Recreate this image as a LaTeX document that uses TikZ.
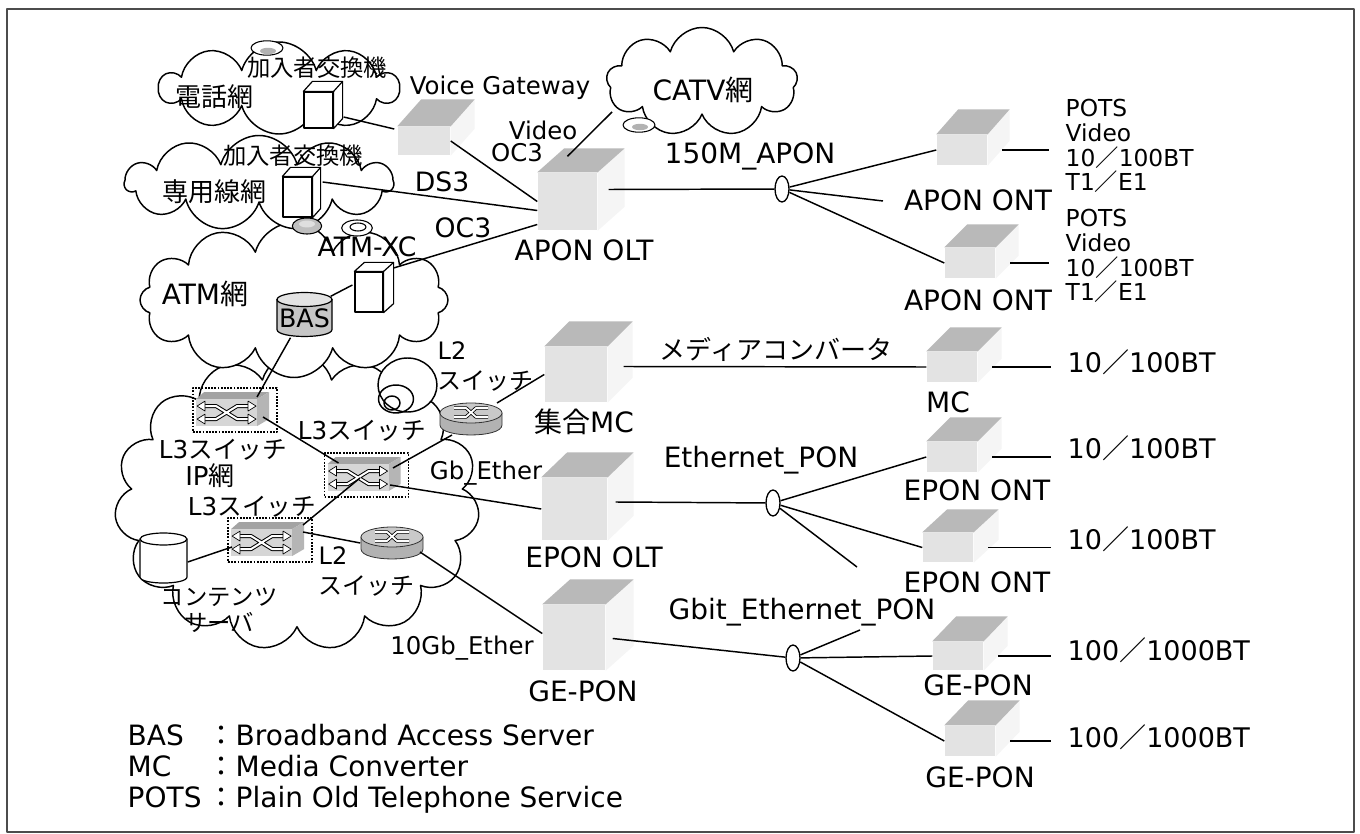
\documentclass[tikz,border=0pt]{standalone}
\usepackage{fontspec}
\setmainfont{DejaVu Sans}
\newfontfamily\jp{Noto Sans CJK JP}
\usetikzlibrary{shapes.geometric,shapes.symbols,calc}

\tikzset{
  lbl/.style={inner sep=0pt},
  fA/.style={lbl, font=\fontsize{21}{24}\selectfont},
  fN/.style={lbl, font=\fontsize{20.25}{24}\selectfont},
  fM/.style={lbl, font=\fontsize{20}{22}\selectfont},
  fB/.style={lbl, font=\fontsize{18.3}{20}\selectfont},
  fP/.style={lbl, anchor=west, align=left, font=\fontsize{17.5}{18.6}\selectfont},
  fJ/.style={lbl, font=\jp\fontsize{19.5}{22}\selectfont},
  fJs/.style={lbl, font=\jp\fontsize{17.5}{20}\selectfont},
  fL/.style={lbl, font=\fontsize{18.5}{22}\selectfont},
  netcloud/.style={cloud, cloud ignores aspect, draw, fill=white, inner sep=0pt, line width=1.1pt},
  dev/.style 2 args={fill=gray!22, inner sep=0pt, minimum width=#1*0.75pt, minimum height=#2*0.75pt},
  exfront/.style 2 args={draw, fill=white, inner sep=0pt, line width=0.9pt, minimum width=#1*0.75pt, minimum height=#2*0.75pt},
  anchorbox/.style 2 args={inner sep=0pt, minimum width=#1*0.75pt, minimum height=#2*0.75pt},
  swbox/.style={draw, densely dotted, line width=1.4pt, inner sep=0pt, minimum width=63pt, minimum height=33pt},
  splitter/.style={ellipse, draw, fill=white, inner sep=0pt, line width=1pt, minimum width=10.5pt, minimum height=19.5pt},
  stub/.style={shorten <=11pt, shorten >=12pt},
}

% stippled equipment: dark top face and faint side face behind a front node
\newcommand\devtop[3]{%
  \fill[gray!8] (#1.north east) -- ++(#2,-#3) -- ($(#1.south east)+(#2,-#3)$) -- (#1.south east) -- cycle;
  \fill[gray!55] (#1.north west) -- ++(#2,-#3) -- ($(#1.north east)+(#2,-#3)$) -- (#1.north east) -- cycle;}

% white outlined exchange cabinet
\newcommand\cubeout[3]{%
  \filldraw[fill=white, line width=0.9pt] (#1.north west) -- ++(#2,-#3) -- ($(#1.north east)+(#2,-#3)$) -- ($(#1.south east)+(#2,-#3)$) -- (#1.south east) -- (#1.north east) -- cycle;
  \draw[line width=0.9pt] (#1.north east) -- ++(#2,-#3);}

% layer-3 switch icon inside its dotted frame
\newcommand\swicon[1]{%
  \begin{scope}[shift={(#1.north west)}, line width=0.5pt]
    \fill[gray!72] (4,12) -- (12,5) -- (77,5) -- (65,12) -- cycle;
    \fill[gray!58] (65,12) -- (77,5) -- (77,32) -- (65,39) -- cycle;
    \fill[gray!32] (4,12) rectangle (65,39);
    \draw[line width=3pt] (12,19) -- (24,19) -- (45,32) -- (57,32) (12,32) -- (24,32) -- (45,19) -- (57,19);
    \draw[line width=1.5pt, white] (12,19) -- (24,19) -- (45,32) -- (57,32) (12,32) -- (24,32) -- (45,19) -- (57,19);
    \filldraw[fill=white] (5,19) -- (13,14) -- (13,24) -- cycle;
    \filldraw[fill=white] (5,32) -- (13,27) -- (13,37) -- cycle;
    \filldraw[fill=white] (64,19) -- (56,14) -- (56,24) -- cycle;
    \filldraw[fill=white] (64,32) -- (56,27) -- (56,37) -- cycle;
  \end{scope}}

% layer-2 switch (round router-style icon)
\newcommand\router[1]{%
  \begin{scope}[shift={(#1.center)}, line width=0.6pt]
    \filldraw[fill=gray!60, draw=gray!40!black] (-31,-6) -- (-31,6) .. controls (-31,19.3) and (31,19.3) .. (31,6) -- (31,-6) -- cycle;
    \filldraw[fill=gray!42, draw=gray!40!black] (0,-6) ellipse [x radius=23.25pt, y radius=7.5pt];
    \draw[line width=2.6pt] (-17,-11) -- (-5,-11) -- (5,-2) -- (17,-2) (-17,-2) -- (-5,-2) -- (5,-11) -- (17,-11);
    \draw[white, line width=1.4pt] (-17,-11) -- (-5,-11) -- (5,-2) -- (17,-2) (-17,-2) -- (-5,-2) -- (5,-11) -- (17,-11);
  \end{scope}}

\begin{document}
\begin{tikzpicture}[x=0.75pt, y=-0.75pt, line width=1.1pt, line join=round]
\useasboundingbox (0,0) rectangle (1360,834);
\draw[gray!60!black, line width=1pt] (7,9) rectangle (1354,832);

% ---------------- networks ----------------
\node[netcloud, cloud puffs=15, minimum width=273.75pt, minimum height=222.75pt] (ipnet) at (297,502) {};
\node[netcloud, cloud puffs=12, minimum width=231pt, minimum height=116.25pt] (atmnet) at (294,300) {};
\node[netcloud, cloud puffs=11, minimum width=201pt, minimum height=71.25pt] (lnet) at (259,183) {};
\node[netcloud, cloud puffs=10, minimum width=178.5pt, minimum height=69pt] (telnet) at (279,88) {};
\node[netcloud, cloud puffs=9, minimum width=143.25pt, minimum height=81.75pt] (catv) at (702,82) {};

% antenna dishes on the cloud rims
\filldraw[fill=white, line width=0.8pt] (267,48) ellipse [x radius=12pt, y radius=5.4pt];
\fill[gray!60] (268,51) ellipse [x radius=6pt, y radius=2.4pt];
\filldraw[fill=gray!50, line width=0.8pt] (307,226) ellipse [x radius=11pt, y radius=6pt];
\fill[gray!25] (307,224) ellipse [x radius=6pt, y radius=2.6pt];
\filldraw[fill=white, line width=0.8pt] (357,228) ellipse [x radius=11.5pt, y radius=6pt];
\draw[line width=0.8pt] (358,227) ellipse [x radius=6pt, y radius=3pt];
\filldraw[fill=white, line width=0.8pt] (639,125) ellipse [x radius=12pt, y radius=5.4pt];
\fill[gray!60] (640,127) ellipse [x radius=6pt, y radius=2.4pt];

% curled puffs on the IP network rim
\filldraw[fill=white] (407.5,385) ellipse [x radius=22.1pt, y radius=20.25pt];
\draw (396,399) ellipse [x radius=13.1pt, y radius=10.5pt];
\draw (392,403) ellipse [x radius=6pt, y radius=5.25pt];

% ---------------- equipment ----------------
\node[exfront={29}{36}] (ex1) at (318.5,110) {};
\cubeout{ex1}{9}{10}
\node[exfront={29}{40}] (ex2) at (297.5,197) {};
\cubeout{ex2}{8}{9}
\node[exfront={28}{40}] (atmxc) at (369,292) {};
\cubeout{atmxc}{10}{9}

% BAS (grey cylinder)
\node[anchorbox={55}{45}] (bas) at (304.5,314.5) {};
\begin{scope}[shift={(bas.center)}, line width=0.9pt]
  \filldraw[fill=gray!45] (-27.5,-15) -- (-27.5,15) .. controls (-27.5,24.3) and (27.5,24.3) .. (27.5,15) -- (27.5,-15) -- cycle;
  \filldraw[fill=gray!22] (0,-15) ellipse [x radius=20.6pt, y radius=5.25pt];
\end{scope}

% content server (white cylinder)
\node[anchorbox={47}{50}] (csrv) at (163.5,558) {};
\begin{scope}[shift={(csrv.center)}, line width=0.9pt]
  \filldraw[fill=white] (-23.5,-19) -- (-23.5,19) .. controls (-23.5,27) and (23.5,27) .. (23.5,19) -- (23.5,-19) -- cycle;
  \filldraw[fill=white] (0,-19) ellipse [x radius=17.6pt, y radius=4.5pt];
\end{scope}

% layer-3 switches
\node[swbox] (sw1) at (235,410) {};
\swicon{sw1}
\node[swbox] (sw2) at (366.5,475) {};
\swicon{sw2}
\node[swbox] (sw3) at (270,540) {};
\swicon{sw3}

% layer-2 switches
\node[anchorbox={62}{32}] (r1) at (471,419) {};
\router{r1}
\node[anchorbox={62}{32}] (r2) at (392,543) {};
\router{r2}

% optical equipment
\node[dev={52}{28}] (vg) at (424,141) {};
\devtop{vg}{24}{27}
\node[dev={59}{57}] (olt) at (567.5,201.5) {};
\devtop{olt}{27}{24}
\node[dev={50}{30}] (ont1) at (962,150) {};
\devtop{ont1}{22}{25}
\node[dev={50}{30}] (ont2) at (970,263) {};
\devtop{ont2}{23}{23}
\node[dev={62}{55}] (mc) at (576,374.5) {};
\devtop{mc}{25}{25}
\node[dev={50}{30}] (mcr) at (952,367) {};
\devtop{mcr}{24}{24}
\node[dev={65}{62}] (eolt) at (574.5,509) {};
\devtop{eolt}{26}{25}
\node[dev={50}{30}] (eont1) at (952,457) {};
\devtop{eont1}{24}{24}
\node[dev={50}{29}] (eont2) at (948,547.5) {};
\devtop{eont2}{25}{23}
\node[dev={62}{65}] (golt) at (574,637.5) {};
\devtop{golt}{28}{25}
\node[dev={50}{28}] (gont1) at (958,656) {};
\devtop{gont1}{24}{25}
\node[dev={50}{30}] (gont2) at (970,741) {};
\devtop{gont2}{24}{25}

% optical splitters
\node[splitter] (sp1) at (782,189) {};
\node[splitter] (sp2) at (773,503) {};
\node[splitter] (sp3) at (793,658) {};
\coordinate (sp1end) at (883,201);
\coordinate (sp2end) at (857,567);
\coordinate (sp3end) at (860,630);

% ---------------- links ----------------
\draw ($(ex1.east)+(10,7)$) -- ($(vg.west)+(-3,-12)$);
\draw (vg.east) -- (olt.west);
\draw ($(ex2.east)+(10,-15)$) -- ($(olt.west)+(0,9)$);
\draw ($(atmxc.east)+(10,-24)$) -- ($(olt.west)+(0,23)$);
\draw ($(atmxc.west)+(-2,-7)$) -- ($(bas.north east)+(-2,5)$);
\draw ($(catv.center)+(-90,30)$) -- ($(olt.north)+(0,-16)$);
\draw ($(olt.east)+(11,-12)$) -- (sp1);
\draw (sp1) -- (ont1.west);
\draw (sp1) -- (sp1end);
\draw (sp1) -- (ont2.west);

\draw ($(bas.south)+(-14,0)$) -- ($(sw1.center)+(22,-13)$);
\draw ($(sw1.center)+(28,7)$) -- ($(sw2.center)+(-28,-12)$);
\draw ($(sw2.center)+(26.5,-7)$) -- ($(r1.center)+(-19,16)$);
\draw ($(sw2.center)+(23.5,10)$) -- (eolt.west);
\draw ($(sw2.center)+(-6.5,3)$) -- ($(sw3.center)+(33,-15)$);
\draw ($(sw3.center)+(33,-8)$) -- (r2.west);
\draw ($(sw3.center)+(-38,7)$) -- ($(csrv.east)+(0,4)$);
\draw ($(r2.center)+(28,9)$) -- ($(golt.west)+(0,-4)$);
\draw ($(r1.center)+(26,-16)$) -- (mc.west);

\draw ($(mc.east)+(16,-8)$) -- (mcr.west);
\draw ($(eolt.east)+(8,-7)$) -- (sp2);
\draw (sp2) -- (eont1.west);
\draw (sp2) -- (eont2.west);
\draw (sp2) -- (sp2end);
\draw ($(golt.east)+(7,1)$) -- (sp3);
\draw (sp3) -- (gont1.west);
\draw (sp3) -- (gont2.west);
\draw (sp3) -- (sp3end);

% ---------------- labels ----------------
\node[fJs] (lex1) at (317,68) {加入者交換機};
\node[fJ] (ltel) at (214,97) {電話網};
\node[fB] (lvg) at (500,88) {Voice Gateway};
\node[fJs] (lex2) at (293,156) {加入者交換機};
\node[fJ] (lln) at (214,192) {専用線網};
\node[fB] (lvideo) at (543,130) {Video};
\node[fB] (loc3a) at (517,153) {OC3};
\node[fM] (lds3) at (442,182) {DS3};
\node[fM] (loc3b) at (463,228) {OC3};
\node[fM] (latmxc) at (367,247) {ATM-XC};
\node[fA] (latm) at (205,294) {ATM{\jp 網}};
\node[fB, font=\fontsize{19}{20}\selectfont] at (bas.center) [yshift=-3pt] {BAS};
\node[fA] (lcatv) at (703,90) {CATV{\jp 網}};
\node[fA] (lolt) at (584,250) {APON OLT};
\node[fA] (lapon) at (750,156) {150M\_APON};
\node[fA] (lont1) at (978,200) {APON ONT};
\node[fA] (lont2) at (978,300) {APON ONT};
\node[fP] (pots1) at (1065,146) {POTS\\Video\\10{\jp ／}100BT\\T1{\jp ／}E1};
\node[fP] (pots2) at (1065,256) {POTS\\Video\\10{\jp ／}100BT\\T1{\jp ／}E1};

\node[fL, anchor=west, align=left, font=\fontsize{18}{22.5}\selectfont] (ll2a) at (437,366) {L2\\{\jp スイッチ}};
\node[fA] (lmc) at (584,422) {{\jp 集合}MC};
\node[fJ] (lconv) at (776,349) {メディアコンバータ};
\node[fA] (lmcr) at (948,402) {MC};
\node[fN, anchor=west] (bt1) at (1067,362) {10{\jp ／}100BT};

\node[fL] (ll3a) at (223,450) {L3{\jp スイッチ}};
\node[fL] (ll3b) at (362,431) {L3{\jp スイッチ}};
\node[fL] (ll3c) at (252,507) {L3{\jp スイッチ}};
\node[fL, font=\fontsize{19.5}{22}\selectfont] (lip) at (210,476) {IP{\jp 網}};
\node[fB] (lgbe) at (486,473) {Gb\_Ether};
\node[fA] (lepon) at (761,460) {Ethernet\_PON};
\node[fA] (leolt) at (594,557) {EPON OLT};
\node[fA] (leont1) at (977,490) {EPON ONT};
\node[fA] (leont2) at (977,582) {EPON ONT};
\node[fN, anchor=west] (bt2) at (1067,448) {10{\jp ／}100BT};
\node[fN, anchor=west] (bt3) at (1067,539) {10{\jp ／}100BT};

\node[fL, anchor=west, align=left, font=\fontsize{18}{22.5}\selectfont] (ll2b) at (318,571.5) {L2\\{\jp スイッチ}};
\node[fJs, align=center, font=\jp\fontsize{17.5}{19.5}\selectfont] (lcs) at (219,610) {コンテンツ\\サーバ};
\node[fB] (l10g) at (462,648) {10Gb\_Ether};
\node[fA] (lgolt) at (583,691) {GE-PON};
\node[fA] (lgepon) at (802,612) {Gbit\_Ethernet\_PON};
\node[fA] (lgont1) at (978,685) {GE-PON};
\node[fA] (lgont2) at (980,777) {GE-PON};
\node[fN, anchor=west] (gbt1) at (1067,650) {100{\jp ／}1000BT};
\node[fN, anchor=west] (gbt2) at (1067,737) {100{\jp ／}1000BT};

% customer-side stubs
\draw[stub] (ont1.east) -- (ont1.east -| pots1.west);
\draw[stub] (ont2.east) -- (ont2.east -| pots2.west);
\draw[stub] (mcr.east) -- (mcr.east -| bt1.west);
\draw[stub] (eont1.east) -- (eont1.east -| bt2.west);
\draw[stub] (eont2.east) -- (eont2.east -| bt3.west);
\draw[stub] (gont1.east) -- (gont1.east -| gbt1.west);
\draw[stub] (gont2.east) -- (gont2.east -| gbt2.west);

% legend
\node[fA, anchor=base west] (kbas) at (127,745) {BAS};
\node[fA, anchor=base west] (dbas) at (207,745) {{\jp ：}Broadband Access Server};
\node[fA, anchor=base west] (kmc) at (127,776) {MC};
\node[fA, anchor=base west] (dmc) at (207,776) {{\jp ：}Media Converter};
\node[fA, anchor=base west] (kpots) at (127,807) {POTS};
\node[fA, anchor=base west] (dpots) at (207,807) {{\jp ：}Plain Old Telephone Service};
\end{tikzpicture}
\end{document}
